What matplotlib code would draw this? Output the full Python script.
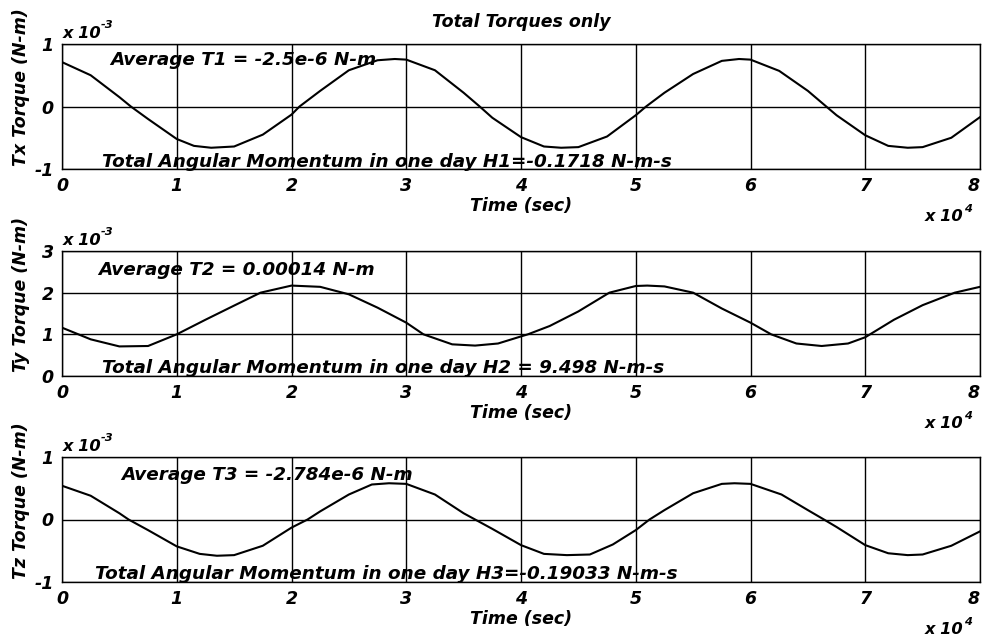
import matplotlib
matplotlib.use("Agg")
import matplotlib.pyplot as plt

# ---- data (time in 1e4 s, torque in 1e-3 N-m) ----
t_x = [0, 0.25, 0.5, 0.6, 0.75, 1.0, 1.15, 1.3, 1.5, 1.75, 2.0, 2.07, 2.25, 2.5, 2.75, 2.9, 3.0,
       3.25, 3.5, 3.64, 3.75, 4.0, 4.2, 4.35, 4.5, 4.75, 5.0, 5.09, 5.25, 5.5, 5.75, 5.9, 6.0,
       6.25, 6.5, 6.66, 6.75, 7.0, 7.2, 7.37, 7.5, 7.75, 8.0]
tx_vals = [0.71, 0.50, 0.15, 0.0, -0.20, -0.52, -0.63, -0.66, -0.64, -0.45, -0.13, 0.0, 0.25, 0.58,
           0.74, 0.76, 0.75, 0.58, 0.22, 0.0, -0.18, -0.49, -0.64, -0.66, -0.65, -0.48, -0.14, 0.0,
           0.22, 0.52, 0.73, 0.76, 0.75, 0.57, 0.25, 0.0, -0.14, -0.46, -0.63, -0.66, -0.65, -0.50, -0.17]

t_y = [0, 0.25, 0.5, 0.75, 1.0, 1.25, 1.5, 1.73, 2.0, 2.25, 2.5, 2.75, 3.0, 3.15, 3.4, 3.6, 3.8,
       4.0, 4.06, 4.25, 4.5, 4.77, 5.0, 5.1, 5.25, 5.5, 5.75, 6.0, 6.18, 6.4, 6.62, 6.85, 7.0,
       7.25, 7.5, 7.78, 8.0]
ty_vals = [1.16, 0.88, 0.71, 0.72, 1.0, 1.35, 1.69, 2.0, 2.17, 2.14, 1.96, 1.64, 1.28, 1.0, 0.76,
           0.73, 0.78, 0.95, 1.0, 1.2, 1.55, 2.0, 2.16, 2.17, 2.15, 2.0, 1.62, 1.28, 1.0, 0.78,
           0.72, 0.78, 0.93, 1.35, 1.70, 2.0, 2.14]

t_z = [0, 0.25, 0.5, 0.58, 0.75, 1.0, 1.2, 1.35, 1.5, 1.75, 2.0, 2.14, 2.25, 2.5, 2.7, 2.85, 3.0,
       3.25, 3.5, 3.6, 3.75, 4.0, 4.2, 4.4, 4.6, 4.8, 5.0, 5.12, 5.25, 5.5, 5.75, 5.86, 6.0,
       6.27, 6.5, 6.64, 6.75, 7.0, 7.2, 7.37, 7.5, 7.75, 8.0]
tz_vals = [0.54, 0.38, 0.10, 0.0, -0.17, -0.43, -0.55, -0.58, -0.57, -0.42, -0.13, 0.0, 0.13, 0.40,
           0.56, 0.58, 0.57, 0.40, 0.10, 0.0, -0.15, -0.41, -0.55, -0.57, -0.56, -0.40, -0.17, 0.0,
           0.15, 0.42, 0.57, 0.58, 0.57, 0.40, 0.15, 0.0, -0.12, -0.41, -0.54, -0.57, -0.56, -0.42, -0.19]

xticks = [0, 1, 2, 3, 4, 5, 6, 7, 8]
xtick_labels = ["0", "1", "2", "3", "4", "5", "6", "7", "8"]
yticks_x = [-1, 0, 1]
yticks_y = [0, 1, 2, 3]
yticks_z = [-1, 0, 1]

title = "Total Torques only"
ylabels = ["Tx Torque (N-m)", "Ty Torque (N-m)", "Tz Torque (N-m)"]
avg_texts = ["Average T1 = -2.5e-6 N-m", "Average T2 = 0.00014 N-m", "Average T3 = -2.784e-6 N-m"]
h_texts = ["Total Angular Momentum in one day H1=-0.1718 N-m-s",
           "Total Angular Momentum in one day H2 = 9.498 N-m-s",
           "Total Angular Momentum in one day H3=-0.19033 N-m-s"]

# ---- figure ----
W, H = 984, 639
fig = plt.figure(figsize=(W / 100, H / 100), dpi=100)
FONT = dict(family="DejaVu Sans", weight="bold", style="italic")
FS = 13.2
TFS = 12.5

def fx(x):
    return x / W

def fy(y):
    return 1 - y / H

left, right = 62, 980
panels = [(44, 169), (251, 376), (457, 582)]
series = [(t_x, tx_vals, yticks_x), (t_y, ty_vals, yticks_y), (t_z, tz_vals, yticks_z)]
avg_pos = [(0.052, 0.832), (0.039, 0.808), (0.065, 0.816)]
h_pos = [(0.0436, 0.016), (0.0436, 0.024), (0.036, 0.024)]

for i, ((top, bot), (tt, vv, yt)) in enumerate(zip(panels, series)):
    ax = fig.add_axes([fx(left), fy(bot), (right - left) / W, (bot - top) / H])
    ax.plot([v * 1e4 for v in tt], [v * 1e-3 for v in vv], color="black", lw=1.5)
    ax.set_xlim(0, 8e4)
    ax.set_ylim(yt[0] * 1e-3, yt[-1] * 1e-3)
    ax.set_xticks([v * 1e4 for v in xticks])
    ax.set_xticklabels(xtick_labels, fontdict=dict(FONT, size=TFS))
    ax.get_xticklabels()[-1].set_horizontalalignment("right")
    ax.set_yticks([v * 1e-3 for v in yt])
    ax.set_yticklabels([str(v) for v in yt], fontdict=dict(FONT, size=TFS))
    ax.tick_params(axis="x", length=0, pad=6)
    ax.tick_params(axis="y", length=0, pad=6)
    ax.grid(True, color="black", lw=1.0, ls="-")
    for s in ax.spines.values():
        s.set_linewidth(1.0)
    ax.set_xlabel("Time (sec)", fontdict=dict(FONT, size=TFS), labelpad=1)
    ax.text(avg_pos[i][0], avg_pos[i][1], avg_texts[i], transform=ax.transAxes,
            ha="left", va="baseline", fontdict=dict(FONT, size=FS))
    ax.text(h_pos[i][0], h_pos[i][1], h_texts[i], transform=ax.transAxes,
            ha="left", va="baseline", fontdict=dict(FONT, size=FS))
    if i == 0:
        ax.set_title(title, fontdict=dict(FONT, size=TFS), pad=12)
    # y multiplier
    fig.text(fx(63), fy(top - 6), "x 10", ha="left", va="baseline", fontdict=dict(FONT, size=FS - 1.5))
    fig.text(fx(101), fy(top - 16), "-3", ha="left", va="baseline", fontdict=dict(FONT, size=FS - 5))
    # x multiplier
    fig.text(fx(963), fy(bot + 52), "x 10", ha="right", va="baseline", fontdict=dict(FONT, size=FS - 1.5))
    fig.text(fx(964), fy(bot + 43), "4", ha="left", va="baseline", fontdict=dict(FONT, size=FS - 5))
    # y label
    fig.text(fx(21), fy((top + bot) / 2 - 19), ylabels[i], rotation=90, ha="center", va="center",
             fontdict=dict(FONT, size=TFS))

fig.savefig("out.png", dpi=100)
